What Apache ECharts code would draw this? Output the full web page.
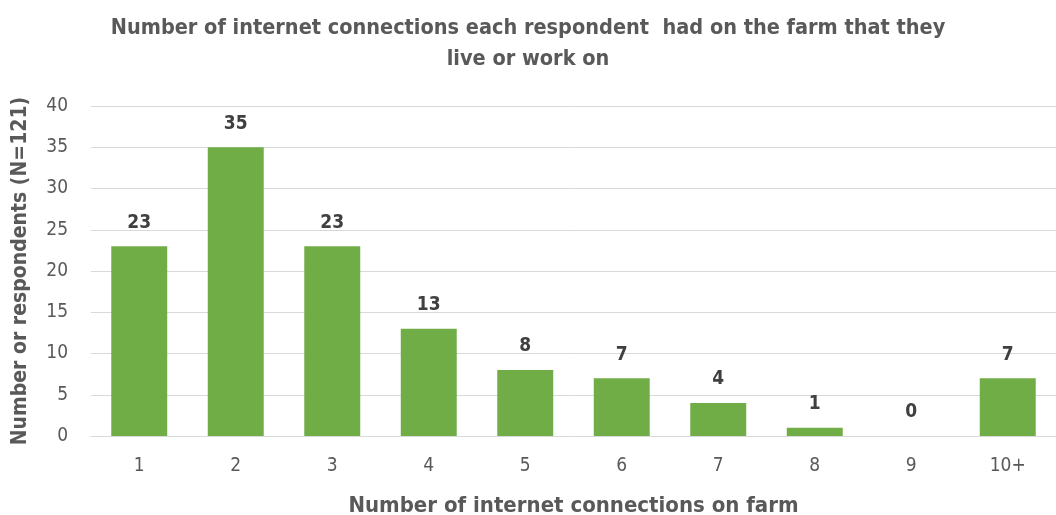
<!DOCTYPE html>
<html>
<head>
<meta charset="utf-8">
<script src="https://cdn.jsdelivr.net/npm/echarts@6/dist/echarts.min.js"></script>
<style>
  html, body { margin: 0; padding: 0; background: #fff; }
  #chart { width: 1056px; height: 515px; }
</style>
</head>
<body>
<div id="chart"></div>
<script>
// Connections per farm and how many respondents reported each count
const categories = ['1', '2', '3', '4', '5', '6', '7', '8', '9', '10+'];
const respondents = [23, 35, 23, 13, 8, 7, 4, 1, 0, 7];
const yTicks = { min: 0, max: 40, interval: 5 };

const FONT = '"DejaVu Sans Condensed", "Open Sans", sans-serif';
const chart = echarts.init(document.getElementById('chart'));

chart.setOption({
  animation: false,
  title: {
    text: 'Number of internet connections each respondent  had on the farm that they\nlive or work on',
    left: 'center',
    top: 8,
    textStyle: {
      fontFamily: FONT, fontSize: 21.5, fontWeight: 'bold', color: '#595959', lineHeight: 31
    }
  },
  grid: { left: 91, right: 0, top: 106, bottom: 79, containLabel: false, outerBoundsMode: 'none' },
  xAxis: {
    type: 'category',
    data: categories,
    name: 'Number of internet connections on farm',
    nameLocation: 'middle',
    nameGap: 59,
    nameTextStyle: { fontFamily: FONT, fontSize: 22, fontWeight: 'bold', color: '#595959' },
    axisLine: { lineStyle: { color: '#d9d9d9', width: 1 } },
    axisTick: { show: false },
    axisLabel: { fontFamily: FONT, fontSize: 19, color: '#595959', margin: 21 }
  },
  yAxis: {
    type: 'value',
    min: yTicks.min, max: yTicks.max, interval: yTicks.interval,
    name: 'Number or respondents (N=121)',
    nameLocation: 'middle',
    nameGap: 60,
    nameTextStyle: { fontFamily: FONT, fontSize: 21, fontWeight: 'bold', color: '#595959' },
    axisLine: { show: false },
    axisTick: { show: false },
    axisLabel: { fontFamily: FONT, fontSize: 19, color: '#595959', margin: 23 },
    splitLine: { lineStyle: { color: '#d9d9d9', width: 1 } }
  },
  series: [{
    type: 'bar',
    data: respondents,
    barCategoryGap: '42%',
    itemStyle: { color: '#70ad47' },
    label: {
      show: true,
      position: 'top',
      distance: 14,
      fontFamily: FONT, fontSize: 19, fontWeight: 'bold', color: '#404040'
    }
  }]
});
</script>
</body>
</html>
